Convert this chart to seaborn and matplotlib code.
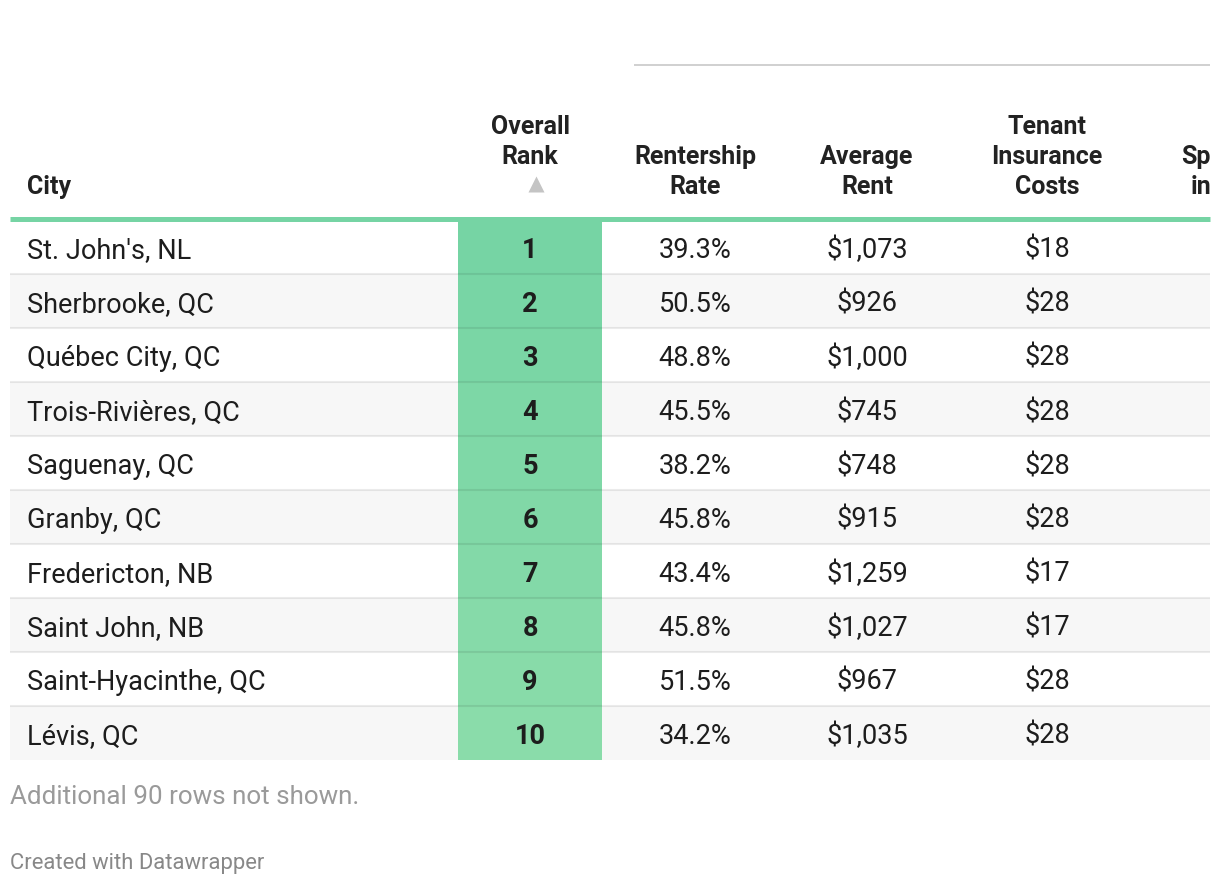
import numpy as np
import pandas as pd
import matplotlib
matplotlib.use("Agg")
import matplotlib.pyplot as plt
import seaborn as sns
from matplotlib.colors import LinearSegmentedColormap

# table data
cities = ["St. John's, NL", "Sherbrooke, QC", "Québec City, QC", "Trois-Rivières, QC",
          "Saguenay, QC", "Granby, QC", "Fredericton, NB", "Saint John, NB",
          "Saint-Hyacinthe, QC", "Lévis, QC"]
ranks = [1, 2, 3, 4, 5, 6, 7, 8, 9, 10]
rentership = [39.3, 50.5, 48.8, 45.5, 38.2, 45.8, 43.4, 45.8, 51.5, 34.2]
avg_rent = [1073, 926, 1000, 745, 748, 915, 1259, 1027, 967, 1035]
insurance = [18, 28, 28, 28, 28, 28, 17, 17, 28, 28]

df = pd.DataFrame({"City": cities, "Rank": ranks, "Rentership": rentership,
                   "Rent": avg_rent, "Insurance": insurance})

sns.set_style("white")
plt.rcParams["font.family"] = ["Roboto", "DejaVu Sans"]

W, H = 1220, 886
fig = plt.figure(figsize=(W / 100, H / 100), dpi=100)
ax = fig.add_axes([0, 0, 1, 1])
ax.set_xlim(0, W)
ax.set_ylim(H, 0)
ax.axis("off")

top = 220       # first row top (px)
rh = 54         # row height
left, right = 10, 1210
txt = "#1d1d1d"
fs = 19.5

# zebra rows
for i in range(len(df)):
    y0 = top + i * rh
    if i % 2 == 1:
        ax.fill_between([left, right], y0, y0 + rh, color="#f7f7f7", lw=0, zorder=0)

# rank column as a heatmap
cmap = LinearSegmentedColormap.from_list("greens", ["#76d4a4", "#8adcaa"])
hax = fig.add_axes([458 / W, 1 - (top + rh * len(df)) / H, 144 / W, rh * len(df) / H])
sns.heatmap(df[["Rank"]], ax=hax, cmap=cmap, cbar=False, annot=True, fmt="d",
            annot_kws={"fontsize": fs, "fontweight": "bold", "color": txt,
                       "fontfamily": ["Roboto", "DejaVu Sans"]},
            xticklabels=False, yticklabels=False)
hax.set_xlabel("")
hax.set_ylabel("")
for t in hax.texts:
    x, y = t.get_position()
    t.set_position((x, y + 0.06))

# row text (baseline aligned)
for i, r in df.iterrows():
    yb = top + i * rh + 38
    ax.text(27, yb, r["City"], ha="left", va="baseline", fontsize=fs, color=txt)
    ax.text(695, yb, f"{r['Rentership']:.1f}%", ha="center", va="baseline", fontsize=fs, color=txt)
    ax.text(867, yb, f"${r['Rent']:,}", ha="center", va="baseline", fontsize=fs, color=txt)
    ax.text(1047, yb, f"${r['Insurance']}", ha="center", va="baseline", fontsize=fs, color=txt)

# overlay an axes for separators on top of the heatmap
oax = fig.add_axes([0, 0, 1, 1], facecolor="none")
oax.set_xlim(0, W)
oax.set_ylim(H, 0)
oax.axis("off")
for i in range(1, len(df)):
    y = top + i * rh
    oax.plot([left, right], [y, y], color="black", alpha=0.08, lw=1.5, solid_capstyle="butt")

# header lines
oax.plot([left, right], [218.5, 218.5], color="#76d4a4", lw=3.6, solid_capstyle="butt")
oax.plot([634, right], [65, 65], color="#d0d0d0", lw=1.4, solid_capstyle="butt")

hkw = dict(ha="center", va="center", fontsize=18, fontweight="bold", color="#222222")
ax.text(27, 187, "City", **{**hkw, "ha": "left"})
ax.text(530, 127, "Overall", **hkw)
ax.text(530, 157, "Rank", **hkw)
ax.plot([536], [184], marker="^", ms=11.5, color="#c4c4c4", mec="none")
ax.text(695, 157, "Rentership", **hkw)
ax.text(695, 187, "Rate", **hkw)
ax.text(867, 157, "Average", **hkw)
ax.text(867, 187, "Rent", **hkw)
ax.text(1047, 127, "Tenant", **hkw)
ax.text(1047, 157, "Insurance", **hkw)
ax.text(1047, 187, "Costs", **hkw)
ax.text(1181, 157, "Sp", **{**hkw, "ha": "left"})
ax.text(1191, 187, "in", **{**hkw, "ha": "left"})

# footer
ax.text(10, 797, "Additional 90 rows not shown.", ha="left", va="center", fontsize=18.7, color="#9a9a9a")
ax.text(10, 863, "Created with Datawrapper", ha="left", va="center", fontsize=15.8, color="#888888")

fig.savefig("out.png", dpi=100, facecolor="white")
